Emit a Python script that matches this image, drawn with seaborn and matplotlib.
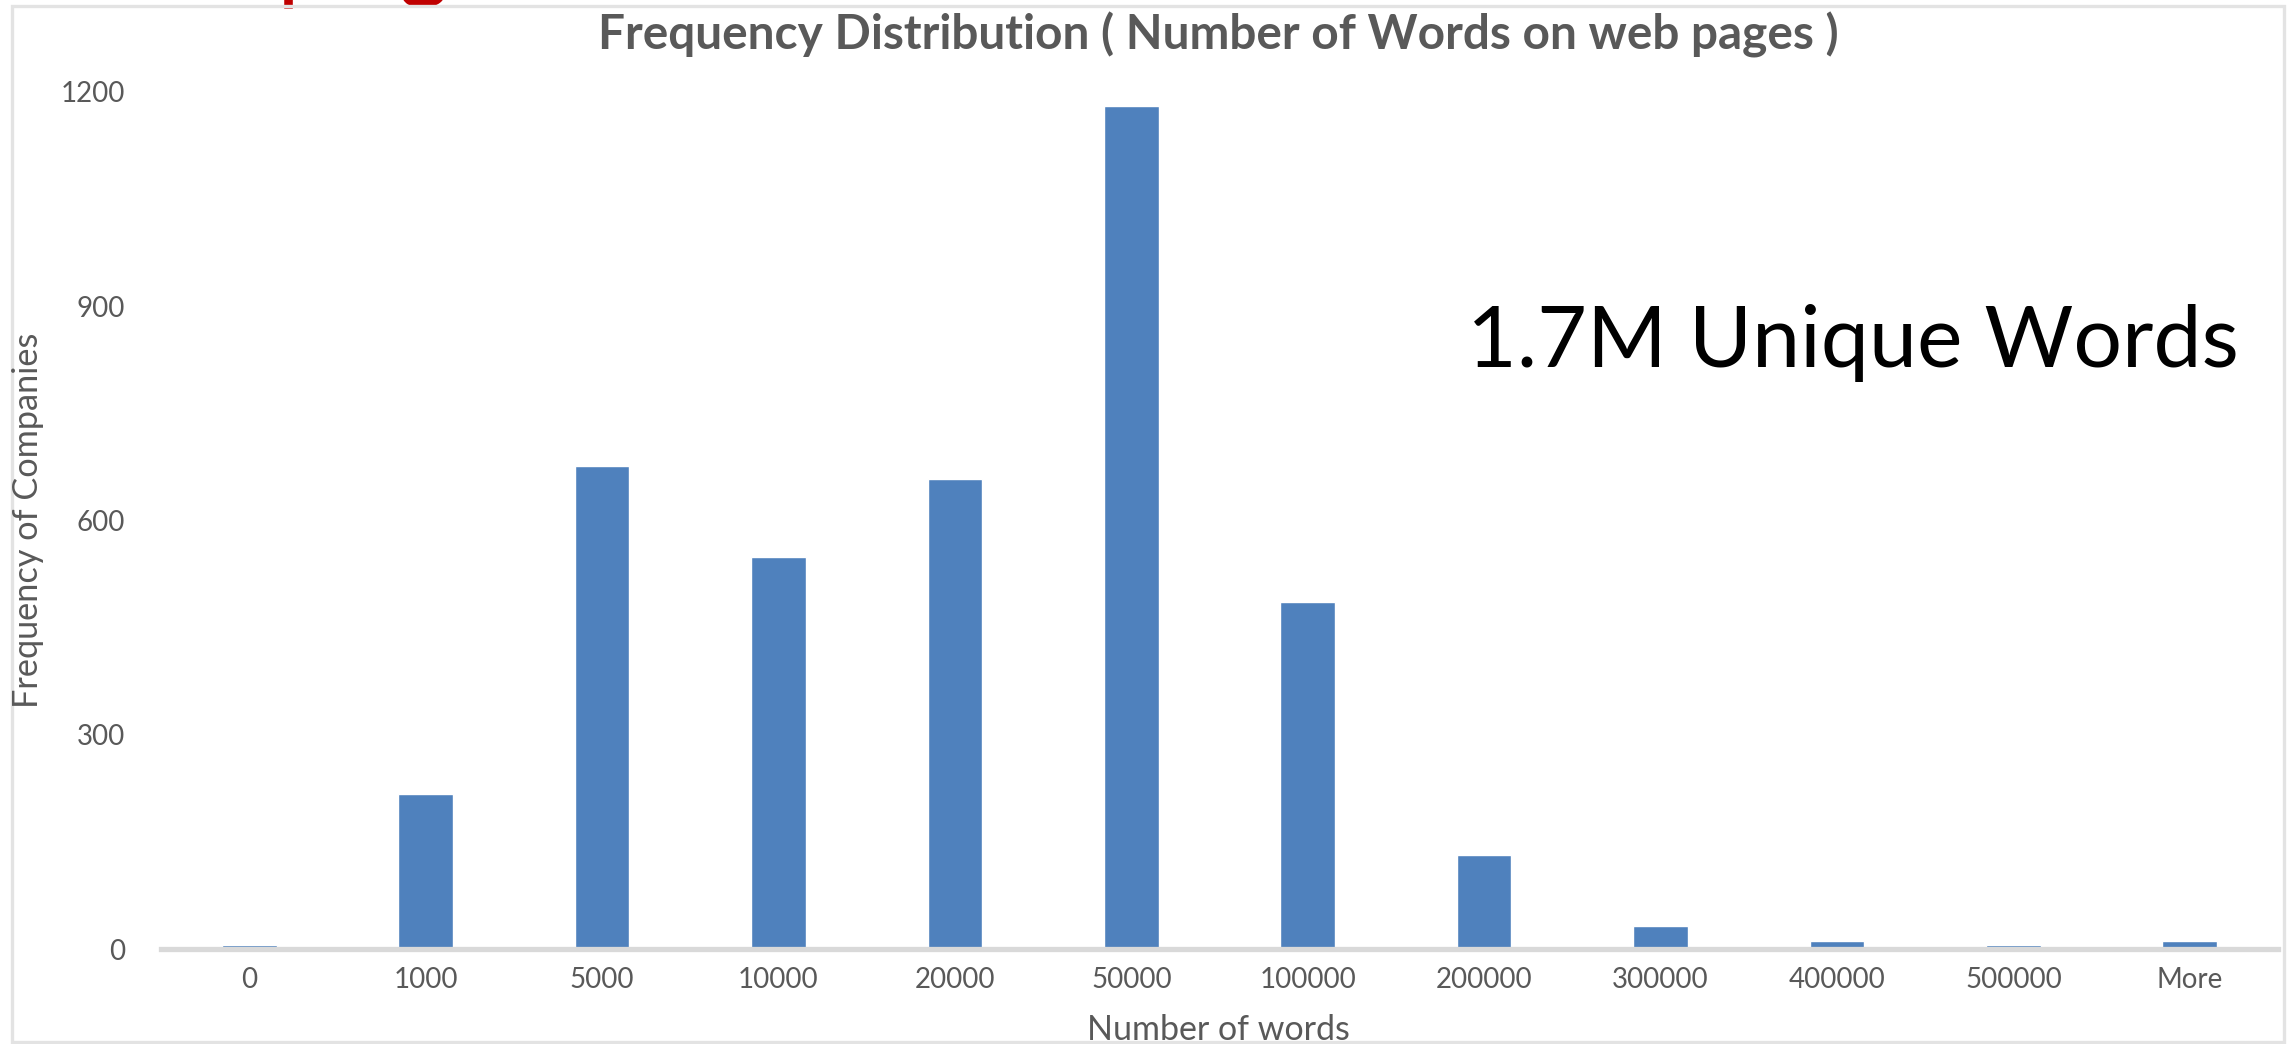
import matplotlib
matplotlib.use('Agg')
import matplotlib.pyplot as plt
import matplotlib.patheffects as pe
import seaborn as sns
import pandas as pd
from matplotlib.patches import Rectangle

# values
word_bins = ['0', '1000', '5000', '10000', '20000', '50000', '100000',
             '200000', '300000', '400000', '500000', 'More']
companies = [6, 217, 676, 549, 658, 1180, 486, 132, 32, 11, 6, 11]
y_ticks = [0, 300, 600, 900, 1200]

title = 'Frequency Distribution ( Number of Words on web pages )'
x_label = 'Number of words'
y_label = 'Frequency of Companies'
note = '1.7M Unique Words'

BAR_BLUE = '#4F81BD'
TEXT_GRAY = '#595959'
LINE_GRAY = '#d9d9d9'

sns.set_theme(style='white')
plt.rcParams['font.family'] = ['Lato', 'DejaVu Sans']

W, H = 2287, 1044
fig = plt.figure(figsize=(W / 100, H / 100), dpi=100)
fig.patch.set_facecolor('white')

# plot area in pixel terms: x from 161 to 2278, y=0 at 949, y=1200 at 92
ax = fig.add_axes([161 / W, 1 - 949 / H, (2278 - 161) / W, (949 - 92) / H])

df = pd.DataFrame({'bin': word_bins, 'count': companies})
sns.barplot(data=df, x='bin', y='count', color=BAR_BLUE, saturation=1,
            width=0.31, ax=ax)

ax.set_xlim(-0.5, len(word_bins) - 0.5)
ax.set_ylim(0, 1200)
ax.set_yticks(y_ticks)
ax.set_xlabel('')
ax.set_ylabel('')
sns.despine(ax=ax, left=True)
ax.spines['bottom'].set_color(LINE_GRAY)
ax.spines['bottom'].set_linewidth(3.8)
ax.spines['bottom'].set_zorder(3)
ax.tick_params(axis='both', length=0, labelsize=20, labelcolor=TEXT_GRAY)
ax.tick_params(axis='y', pad=26)
ax.tick_params(axis='x', pad=13)

renderer = fig.canvas.get_renderer()


def fit_text(t, target_px, vertical=False):
    ext = t.get_window_extent(renderer)
    size = ext.height if vertical else ext.width
    t.set_fontsize(t.get_fontsize() * target_px / size)


t_title = fig.text(1218 / W, 1 - 50 / H, title, ha='center', va='baseline',
                   fontsize=36, fontweight='bold', color=TEXT_GRAY)
fit_text(t_title, 1240)

t_note = fig.text(1467 / W, 1 - 367 / H, note, ha='left', va='baseline',
                  fontsize=70, color='black')
fit_text(t_note, 772)

t_x = fig.text(1218 / W, 1 - 1040 / H, x_label, ha='center', va='baseline',
               fontsize=22, color=TEXT_GRAY)
fit_text(t_x, 262)

t_y = fig.text(28 / W, 1 - 520 / H, y_label, ha='center', va='center',
               rotation=90, fontsize=22, color=TEXT_GRAY)
fit_text(t_y, 374, vertical=True)

# cut-off red slide heading: only the tails of two letters peek in at the top.
# A thin strip axes (top 9 px of the picture) clips them.
strip = fig.add_axes([0, 1 - 9 / H, 1, 9 / H])
strip.set_axis_off()
strip.set_xlim(0, W)
strip.set_ylim(0, 1)
for x_px, glyph, size in [(280, 'p', 50), (400, 'g', 66)]:
    strip.text(x_px, 0, glyph, ha='left', va='bottom', fontsize=size,
               fontweight='bold', color='#c00000', clip_on=True,
               path_effects=[pe.Normal()])

# light frame round the pasted chart
fig.patches.append(Rectangle((11.5 / W, 2 / H), (2284 - 11.5) / W, (1038 - 2) / H,
                             transform=fig.transFigure, fill=False,
                             edgecolor='#e3e3e3', linewidth=2.4))

fig.savefig('out.png', dpi=100, facecolor='white')
plt.close(fig)
